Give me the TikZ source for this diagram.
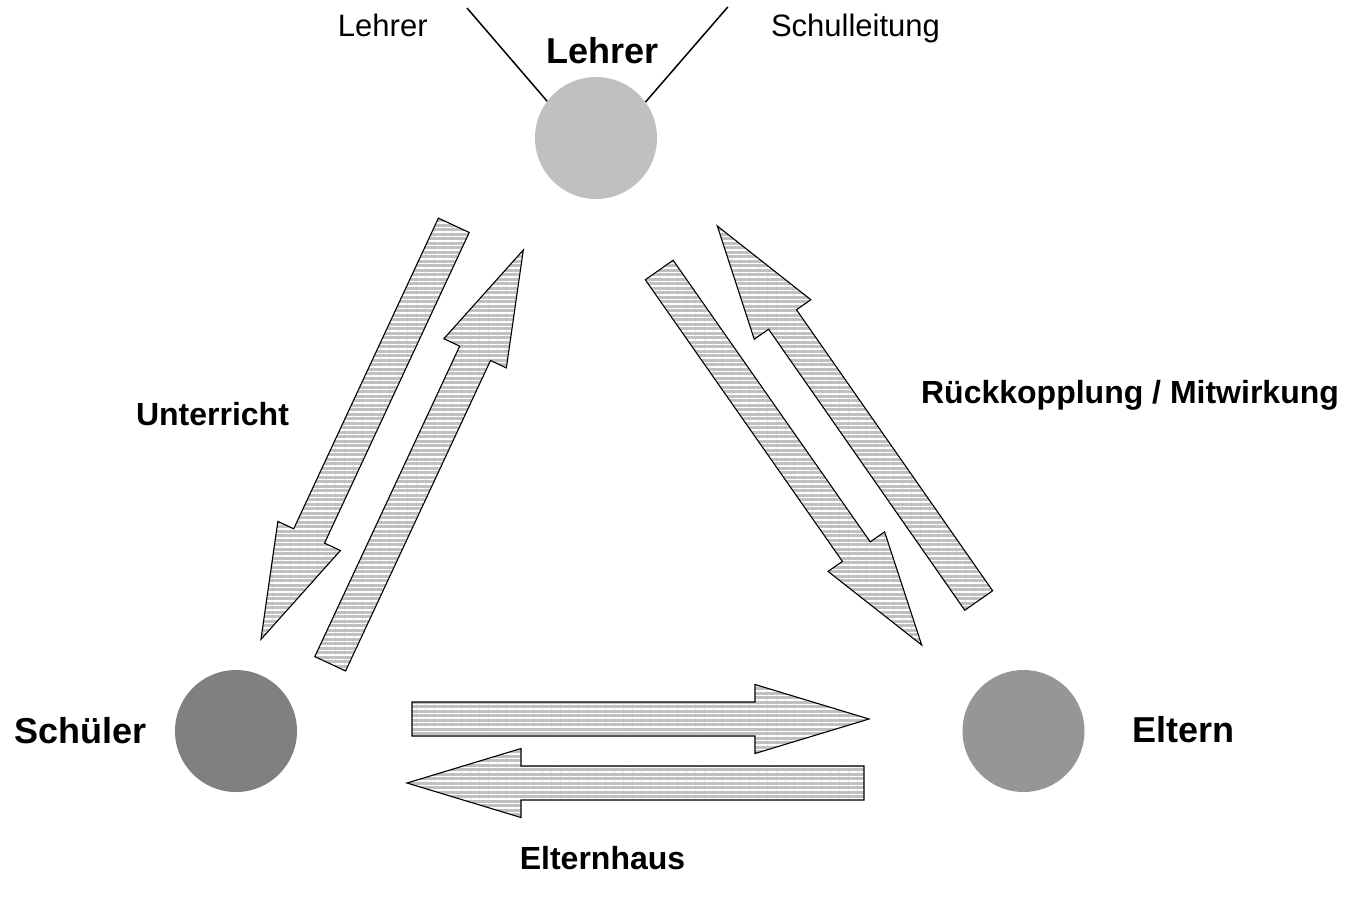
\documentclass[tikz,border=0pt]{standalone}
\usepackage{fontspec}
\setmainfont{Liberation Sans}
\usetikzlibrary{calc,patterns.meta}
\definecolor{lgray}{HTML}{C0C0C0}
\definecolor{dgray}{HTML}{808080}
\definecolor{mgray}{HTML}{969696}
\definecolor{argray}{HTML}{C0C0C0}
\tikzset{
  person/.style={circle, minimum size=122pt, inner sep=0pt, draw=none},
  biglabel/.style={font=\fontsize{36}{40}\selectfont\bfseries, anchor=base, inner sep=0pt},
  midlabel/.style={font=\fontsize{32}{36}\selectfont\bfseries, anchor=base, inner sep=0pt},
  smalllabel/.style={font=\fontsize{31}{35}\selectfont, anchor=base, inner sep=0pt},
  blockarrow/.style={draw=black, line width=1.1pt, line join=miter,
    pattern={Lines[angle=0,distance=4.5pt,line width=1.4pt]}, pattern color=white,
    preaction={fill=argray}},
  thinline/.style={draw=black, line width=1.5pt}
}
\newcommand\flowarrow[3]{%
  \coordinate (#1-t) at #2;
  \coordinate (#1-h) at #3;
  \coordinate (#1-b) at ($(#1-h)!114pt!(#1-t)$);
  \path[blockarrow] ($(#1-t)!17pt!90:(#1-h)$) -- ($(#1-b)!17pt!90:(#1-h)$)
    -- ($(#1-b)!34.5pt!90:(#1-h)$) -- (#1-h) -- ($(#1-b)!34.5pt!-90:(#1-h)$)
    -- ($(#1-b)!17pt!-90:(#1-h)$) -- ($(#1-t)!17pt!-90:(#1-h)$) -- cycle;
}
\begin{document}
\begin{tikzpicture}[x=1pt, y=-1pt]
\useasboundingbox (0,0) rectangle (1347,898);
% persons
\node[person, fill=lgray] (lehrer) at (596,138) {};
\node[person, fill=dgray] (schueler) at (236,731) {};
\node[person, fill=mgray] (eltern) at (1023.5,731) {};
% labels
\node[biglabel] (lLehrer) at (602.8,63.3) {Lehrer};
\node[biglabel] (lSchueler) at (80.3,743.3) {Schüler};
\node[biglabel] (lEltern) at (1183.8,742.7) {Eltern};
\node[smalllabel] (lLehrerSmall) at (382.8,36.7) {Lehrer};
\node[smalllabel] (lSchulleitung) at (855.5,36.7) {Schulleitung};
\node[midlabel] (lUnterricht) at (212.5,425.5) {Unterricht};
\node[midlabel] (lRueck) at (1130,403) {Rückkopplung / Mitwirkung};
\node[midlabel] (lElternhaus) at (602.5,869) {Elternhaus};
% lines above Lehrer
\coordinate (lineL) at (467,8);
\coordinate (lineR) at (727.8,7);
\draw[thinline] (lineL) -- (lehrer.143);
\draw[thinline] (lineR) -- (lehrer.36);
% block arrows
\flowarrow{se}{(412,719)}{(869,719)}
\flowarrow{es}{(864,783)}{(407,783)}
\flowarrow{ls}{(453.8,225.3)}{(261,639.3)}
\flowarrow{sl}{(330.2,663.8)}{(523.3,250)}
\flowarrow{le}{(659.2,270)}{(921.7,645)}
\flowarrow{el}{(978.7,600.5)}{(717.3,226)}
\end{tikzpicture}
\end{document}
